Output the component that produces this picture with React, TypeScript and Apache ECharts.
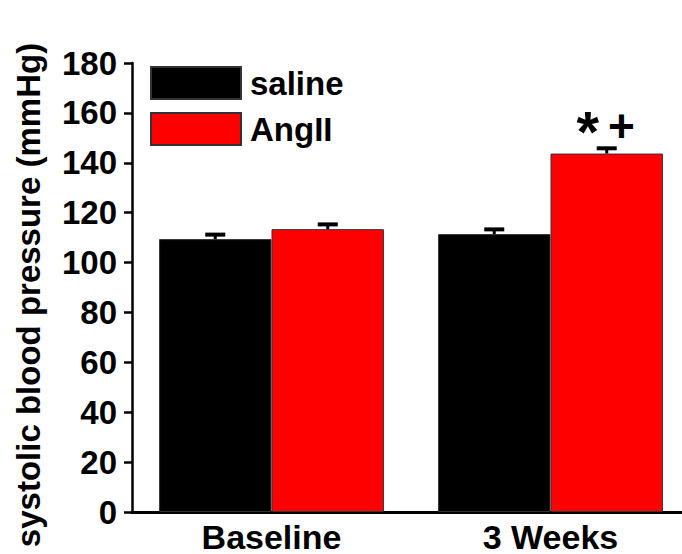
import React, { useEffect, useRef } from "react";
import * as echarts from "echarts";

const categories = ["Baseline", "3 Weeks"];
const seriesNames = ["saline", "AngII"];
const salineMean = [109.4, 111.4];
const salineSem = [1.8, 1.9];
const angIIMean = [113.4, 143.7];
const angIISem = [1.9, 2.1];
const yMin = 0;
const yMax = 180;
const yInterval = 20;
const yAxisTitle = "systolic blood pressure (mmHg)";
const significance = ["*", "+"];

const FONT = "Liberation Sans, Arial, Helvetica, sans-serif";
const BAR_FRACTION = 112.5 / 279;

function makeErrorSeries(mean: number[], sem: number[], side: number) {
  return {
    type: "custom",
    z: 5,
    silent: true,
    data: mean.map((m, i) => [i, m, sem[i]]),
    encode: { x: 0, y: 1 },
    renderItem: (params: any, api: any) => {
      const ci = api.value(0);
      const m = api.value(1);
      const s = api.value(2);
      const catW = api.size([1, 0])[0];
      const bw = catW * BAR_FRACTION;
      const base = api.coord([ci, m]);
      const top = api.coord([ci, m + s]);
      const x = base[0] + (side * bw) / 2;
      return {
        type: "group",
        children: [
          {
            type: "line",
            shape: { x1: x, y1: base[1], x2: x, y2: top[1] },
            style: { stroke: "#000", lineWidth: 3 },
          },
          {
            type: "line",
            shape: { x1: x - 10, y1: top[1], x2: x + 10, y2: top[1] },
            style: { stroke: "#000", lineWidth: 4 },
          },
        ],
      };
    },
  };
}

export default function App() {
  const ref = useRef<HTMLDivElement>(null);
  useEffect(() => {
    if (!ref.current) return;
    const chart = echarts.init(ref.current, null, { renderer: "svg" });
    chart.setOption({
      animation: false,
      backgroundColor: "#fff",
      textStyle: { fontFamily: FONT },
      grid: { left: 132, top: 63, right: 10, bottom: 42, containLabel: false },
      legend: {
        data: seriesNames,
        orient: "vertical",
        left: 150,
        top: 66,
        padding: 0,
        itemWidth: 90,
        itemHeight: 32,
        itemGap: 12,
        icon: "rect",
        selectedMode: false,
        textStyle: {
          fontSize: 33,
          fontWeight: "bold",
          color: "#000",
          fontFamily: FONT,
          lineHeight: 32,
          padding: [0, 0, 0, 4],
        },
      },
      xAxis: {
        type: "category",
        data: categories,
        axisLine: { lineStyle: { color: "#000", width: 3 } },
        axisTick: { show: false },
        axisLabel: {
          fontSize: 34,
          fontWeight: "bold",
          color: "#000",
          fontFamily: FONT,
          margin: 13,
          lineHeight: 24,
        },
      },
      yAxis: {
        type: "value",
        min: yMin,
        max: yMax,
        interval: yInterval,
        splitLine: { show: false },
        axisLine: { show: true, lineStyle: { color: "#000", width: 2.5 } },
        axisTick: { show: true, length: 8, lineStyle: { color: "#000", width: 2.5 } },
        axisLabel: {
          fontSize: 33,
          fontWeight: "bold",
          color: "#000",
          fontFamily: FONT,
          margin: 15,
        },
      },
      graphic: [
        {
          type: "text",
          x: 28,
          y: 295,
          rotation: Math.PI / 2,
          style: {
            text: yAxisTitle,
            fontSize: 33,
            fontWeight: "bold",
            fontFamily: FONT,
            fill: "#000",
            align: "center",
            verticalAlign: "middle",
          },
        },
      ],
      series: [
        {
          name: seriesNames[0],
          type: "bar",
          data: salineMean,
          barWidth: "40.3%",
          barGap: "0%",
          itemStyle: { color: "#000", borderColor: "#333", borderWidth: 1 },
        },
        {
          name: seriesNames[1],
          type: "bar",
          barWidth: "40.3%",
          barGap: "0%",
          data: angIIMean.map((v, i) =>
            i === 1
              ? {
                  value: v,
                  label: {
                    show: true,
                    position: "top",
                    distance: 9,
                    offset: [-1, 0],
                    formatter: `{a|${significance[0]}}{b|${significance[1]}}`,
                    rich: {
                      a: { fontSize: 58, fontWeight: "bold", color: "#000", fontFamily: FONT, lineHeight: 40, padding: [14, 9, 0, 0] },
                      b: { fontSize: 46, fontWeight: "bold", color: "#000", fontFamily: FONT, lineHeight: 40, padding: [3, 0, 0, 0] },
                    },
                  },
                }
              : v
          ),
          itemStyle: { color: "#ff0000", borderColor: "#333", borderWidth: 1 },
        },
        makeErrorSeries(salineMean, salineSem, -1),
        makeErrorSeries(angIIMean, angIISem, 1),
      ],
    });
    return () => chart.dispose();
  }, []);
  return (
    <div style={{ position: "absolute", left: 0, top: 0, width: 682, height: 554, overflow: "hidden" }}>
      <div ref={ref} style={{ width: 700, height: 554 }} />
    </div>
  );
}
